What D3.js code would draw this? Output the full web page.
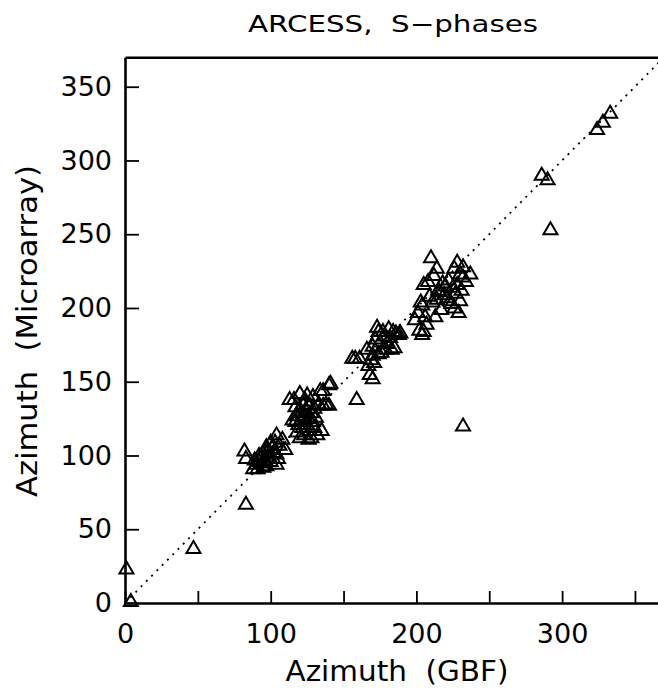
<!DOCTYPE html>
<html>
<head>
<meta charset="utf-8">
<script src="https://cdn.jsdelivr.net/npm/d3@7"></script>
<style>
  html, body { margin: 0; padding: 0; background: #fff; }
  svg { display: block; }
  text { font-family: "DejaVu Sans", sans-serif; fill: #000; white-space: pre; }
</style>
</head>
<body>
<svg id="chart" width="658" height="692"></svg>
<script>
// ---- data (azimuth in degrees) ----
const title = "ARCESS,  S\u2212phases";
const xLabel = "Azimuth  (GBF)";
const yLabel = "Azimuth  (Microarray)";
const xTickValues = [0, 50, 100, 150, 200, 250, 300, 350];
const xTickLabels = ["0", "", "100", "", "200", "", "300", ""];
const yTickValues = [0, 50, 100, 150, 200, 250, 300, 350];
const yTickLabels = ["0", "50", "100", "150", "200", "250", "300", "350"];
const axisMax = 370;

// GBF azimuth
const gbf = [
  1, 4, 47, 83, 232, 292, 286, 290, 324, 328, 333,
  82, 83, 88, 90, 91, 92, 93, 94, 95, 96, 97, 98, 99, 100, 101, 102, 103, 104, 104, 104, 105, 106, 108, 110, 92, 95, 89, 100, 97,
  113, 116, 117, 118, 118, 119, 120, 120, 121, 121, 122, 122, 123, 123, 124, 124, 125, 125, 126, 126, 127, 127, 128, 128, 129, 129, 130, 130, 131, 132, 133, 134, 135, 136, 136, 138, 140, 140, 141, 119, 115, 117,
  156, 158, 159, 161, 166, 167, 168, 169, 170, 170, 170, 171, 172, 173, 174, 175, 176, 177, 178, 179, 180, 182, 183, 184, 185, 186, 188, 189, 181, 174,
  199, 201, 202, 204, 204, 205, 205, 206, 207, 208, 209, 210, 211, 212, 213, 214, 214, 215, 216, 217, 218, 219, 220, 221, 222, 223, 224, 225, 226, 227, 228, 228, 229, 230, 230, 231, 232, 232, 234, 237, 203, 226
];
// Microarray azimuth
const micro = [
  24, 2, 38, 68, 121, 254, 291, 288, 322, 327, 333,
  104, 99, 92, 95, 92, 97, 100, 96, 102, 98, 94, 104, 100, 97, 106, 103, 110, 115, 102, 95, 99, 108, 112, 105, 101, 93, 98, 110, 107,
  139, 139, 134, 128, 117, 122, 113, 143, 130, 125, 120, 136, 115, 128, 138, 132, 142, 122, 112, 126, 135, 118, 130, 113, 141, 124, 133, 120, 127, 115, 136, 145, 118, 135, 145, 136, 135, 149, 150, 131, 125, 124,
  167, 167, 139, 167, 173, 162, 156, 166, 153, 169, 175, 164, 180, 188, 185, 178, 171, 185, 182, 173, 177, 181, 173, 185, 174, 184, 183, 184, 187, 170,
  193, 198, 186, 183, 203, 185, 217, 195, 190, 219, 209, 235, 205, 223, 195, 207, 228, 213, 212, 200, 218, 210, 216, 208, 220, 206, 204, 215, 228, 211, 217, 232, 198, 206, 224, 213, 229, 222, 219, 224, 205, 201
];

// ---- layout ----
const svg = d3.select("#chart");
const x = d3.scaleLinear().domain([0, axisMax]).range([125, 125 + 370 * 1.457]);
const y = d3.scaleLinear().domain([0, axisMax]).range([603, 603 - 370 * 1.4751]);

// diagonal 1:1 line (dotted)
svg.append("line")
  .attr("x1", x(0)).attr("y1", y(0))
  .attr("x2", x(axisMax)).attr("y2", y(axisMax))
  .attr("stroke", "#000").attr("stroke-width", 1.8)
  .attr("stroke-dasharray", "2,5.5");

// points (open triangles)
const pts = gbf.map((g, i) => [g, micro[i]]);
svg.append("g").selectAll("path").data(pts).join("path")
  .attr("d", d => {
    const cx = x(d[0]), cy = y(d[1]);
    return `M${cx - 7},${cy + 6}L${cx + 7},${cy + 6}L${cx},${cy - 6}Z`;
  })
  .attr("fill", "none").attr("stroke", "#000").attr("stroke-width", 2)
  .attr("stroke-linejoin", "miter");

// axes
const xAxis = d3.axisBottom(x).tickValues(xTickValues)
  .tickFormat((d, i) => xTickLabels[i]).tickSizeInner(-12).tickSizeOuter(0).tickPadding(21);
const yAxis = d3.axisLeft(y).tickValues(yTickValues)
  .tickFormat((d, i) => yTickLabels[i]).tickSizeInner(-14).tickSizeOuter(0).tickPadding(13);
const topAxis = d3.axisTop(x).tickValues([]).tickSizeOuter(0);

const gx = svg.append("g").attr("transform", `translate(0,${y(0)})`).call(xAxis);
const gy = svg.append("g").attr("transform", `translate(${x(0)},0)`).call(yAxis);
const gt = svg.append("g").attr("transform", `translate(0,${y(axisMax)})`).call(topAxis);

[gx, gy, gt].forEach(g => {
  g.select(".domain").attr("stroke", "#000").attr("stroke-width", 2.6);
  g.selectAll(".tick line").attr("stroke", "#000").attr("stroke-width", 1.8);
  g.selectAll(".tick text").attr("font-size", 27).attr("font-family", "DejaVu Sans").attr("fill", "#000");
});

// title and axis titles
svg.append("text").attr("x", 393).attr("y", 31.5)
  .attr("text-anchor", "middle").attr("font-size", 23)
  .attr("textLength", 290).attr("lengthAdjust", "spacingAndGlyphs")
  .text(title);

svg.append("text").attr("x", 397).attr("y", 681)
  .attr("text-anchor", "middle").attr("font-size", 28)
  .attr("textLength", 223).attr("lengthAdjust", "spacingAndGlyphs")
  .text(xLabel);

svg.append("text")
  .attr("transform", "translate(36.5,331) rotate(-90)")
  .attr("text-anchor", "middle").attr("font-size", 28)
  .attr("textLength", 332).attr("lengthAdjust", "spacingAndGlyphs")
  .text(yLabel);
</script>
</body>
</html>
